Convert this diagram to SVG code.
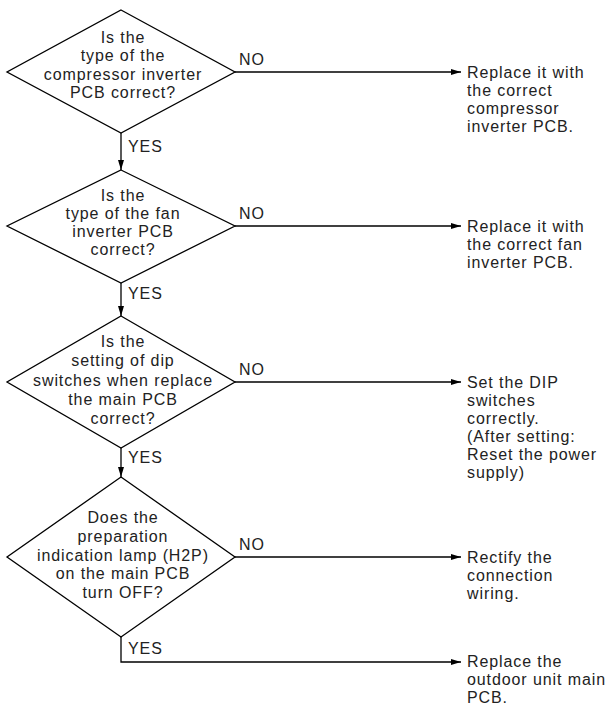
<svg xmlns="http://www.w3.org/2000/svg" width="613" height="706" viewBox="0 0 613 706">
<defs>
<marker id="ah" viewBox="0 0 10 6" refX="10" refY="3" markerWidth="10" markerHeight="6" markerUnits="userSpaceOnUse" orient="auto">
<path d="M0,0 L10,3 L0,6 Z" fill="#000"/>
</marker>
<style>
text{font-family:"Liberation Sans",Arial,sans-serif;font-size:16px;letter-spacing:0.9px;fill:#222}
.c{text-anchor:middle}
.d{fill:#fff;stroke:#000;stroke-width:1.3}
.ln{fill:none;stroke:#000;stroke-width:1.3}
</style>
</defs>
<rect width="613" height="706" fill="#fff"/>
<g id="connectors">
<path class="ln" d="M121,133 V170" marker-end="url(#ah)"/>
<path class="ln" d="M121,283 V316" marker-end="url(#ah)"/>
<path class="ln" d="M121,448 V477" marker-end="url(#ah)"/>
<path class="ln" d="M121,637 V662 H461" marker-end="url(#ah)"/>
<path class="ln" d="M235,72 H461" marker-end="url(#ah)"/>
<path class="ln" d="M235,226 H461" marker-end="url(#ah)"/>
<path class="ln" d="M235,382 H461" marker-end="url(#ah)"/>
<path class="ln" d="M235,557 H461" marker-end="url(#ah)"/>
<text x="239" y="65">NO</text>
<text x="239" y="219">NO</text>
<text x="239" y="375">NO</text>
<text x="239" y="550">NO</text>
<text x="128" y="152">YES</text>
<text x="128" y="299">YES</text>
<text x="128" y="463">YES</text>
<text x="128" y="654">YES</text>
</g>
<g id="d1">
<polygon class="d" points="121,10 235,72 121,133 7,72"/>
<text class="c" x="123" y="43">Is the<tspan x="123" dy="18">type of the</tspan><tspan x="123" dy="19">compressor inverter</tspan><tspan x="123" dy="18">PCB correct?</tspan></text>
</g>
<g id="d2">
<polygon class="d" points="121,170 235,226 121,283 7,226"/>
<text class="c" x="123" y="201">Is the<tspan x="123" dy="18">type of the fan</tspan><tspan x="123" dy="18">inverter PCB</tspan><tspan x="123" dy="18">correct?</tspan></text>
</g>
<g id="d3">
<polygon class="d" points="121,316 235,382 121,448 7,382"/>
<text class="c" x="123" y="347">Is the<tspan x="123" dy="19">setting of dip</tspan><tspan x="123" dy="20">switches when replace</tspan><tspan x="123" dy="19">the main PCB</tspan><tspan x="123" dy="19">correct?</tspan></text>
</g>
<g id="d4">
<polygon class="d" points="121,477 235,557 121,637 7,557"/>
<text class="c" x="123" y="523">Does the<tspan x="123" dy="19">preparation</tspan><tspan x="123" dy="19">indication lamp (H2P)</tspan><tspan x="123" dy="18">on the main PCB</tspan><tspan x="123" dy="19">turn OFF?</tspan></text>
</g>
<g id="r1">
<text x="467" y="78">Replace it with<tspan x="467" dy="18">the correct</tspan><tspan x="467" dy="18">compressor</tspan><tspan x="467" dy="18">inverter PCB.</tspan></text>
</g>
<g id="r2">
<text x="467" y="232">Replace it with<tspan x="467" dy="18">the correct fan</tspan><tspan x="467" dy="18">inverter PCB.</tspan></text>
</g>
<g id="r3">
<text x="467" y="388">Set the DIP<tspan x="467" dy="18">switches</tspan><tspan x="467" dy="18">correctly.</tspan><tspan x="467" dy="18">(After setting:</tspan><tspan x="467" dy="18">Reset the power</tspan><tspan x="467" dy="18">supply)</tspan></text>
</g>
<g id="r4">
<text x="467" y="563">Rectify the<tspan x="467" dy="18">connection</tspan><tspan x="467" dy="18">wiring.</tspan></text>
</g>
<g id="r5">
<text x="467" y="667">Replace the<tspan x="467" dy="18">outdoor unit main</tspan><tspan x="467" dy="17.9">PCB.</tspan></text>
</g>
</svg>
